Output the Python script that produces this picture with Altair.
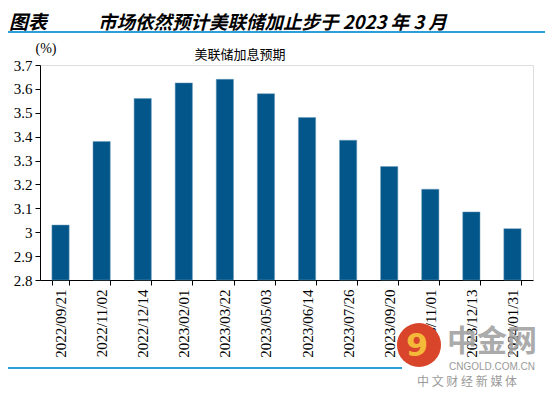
import altair as alt
import pandas as pd

dates = ["2022/09/21", "2022/11/02", "2022/12/14", "2023/02/01", "2023/03/22", "2023/05/03",
         "2023/06/14", "2023/07/26", "2023/09/20", "2023/11/01", "2023/12/13", "2024/01/31"]
values = [3.03, 3.38, 3.56, 3.625, 3.64, 3.58, 3.48, 3.385, 3.275, 3.18, 3.085, 3.015]
y_ticks = [2.8, 2.9, 3.0, 3.1, 3.2, 3.3, 3.4, 3.5, 3.6, 3.7]

header_label = "图表"
title_text = "市场依然预计美联储加止步于 2023 年 3 月"
subtitle_text = "美联储加息预期"
unit_text = "(%)"

df = pd.DataFrame({"date": dates, "value": values})

SERIF = "Liberation Serif"
CJK = "Noto Sans CJK SC"
W, H = 493, 215

bars = alt.Chart(df).mark_bar(color="#03568a", stroke="#6d9cbc", strokeWidth=0.5).encode(
    x=alt.X("date:N", sort=None, title=None,
            scale=alt.Scale(paddingInner=0.58, paddingOuter=0.29),
            axis=alt.Axis(labelAngle=270, labelFont=SERIF, labelFontSize=15, labelColor="#000",
                          domainColor="#000", tickColor="#000", tickSize=5, tickBand="extent",
                          labelPadding=4)),
    y=alt.Y("value:Q", title=None,
            scale=alt.Scale(domain=[2.8, 3.7], zero=False, nice=False),
            axis=alt.Axis(values=y_ticks, format="~g", labelFont=SERIF, labelFontSize=15,
                          labelColor="#000", domainColor="#000", tickColor="#000", tickSize=5,
                          grid=False, labelPadding=3)),
    y2=alt.datum(2.8),
)


def txt(s, x, y, size, font, color="#000", weight="normal", style="normal", align="center",
        opacity=1.0):
    return alt.Chart(pd.DataFrame({"t": [s]})).mark_text(
        font=font, fontSize=size, fontWeight=weight, fontStyle=style, color=color,
        align=align, baseline="middle", opacity=opacity
    ).encode(x=alt.value(x), y=alt.value(y), text="t:N")


def hline(x1, x2, y, color, width):
    return alt.Chart(pd.DataFrame({"a": [0]})).mark_rule(color=color, strokeWidth=width).encode(
        x=alt.value(x1), x2=alt.value(x2), y=alt.value(y))


header = txt(header_label, -31, -42, 19, CJK, weight="bold", style="italic", align="left")
title = txt(title_text, 58, -42, 18.5, CJK, weight="bold", style="italic", align="left")
top_line = hline(-40, 505, -33, "#2b9fdc", 2)
unit = txt(unit_text, 6, -16, 14, SERIF)
subtitle = txt(subtitle_text, 200, -10, 13, CJK)
bottom_line = hline(-40, 362, 303, "#2b9fdc", 2)

logo = alt.Chart(pd.DataFrame({"a": [0]})).mark_point(
    filled=True, shape="circle", size=1940, color="#d8452a", opacity=1
).encode(x=alt.value(379), y=alt.value(280))
logo_inner = txt("9", 377, 281, 32, "DejaVu Sans", color="#f5b93a", weight="bold")
wm1 = txt("中金网", 452, 277, 30, CJK, color="#a3a3a3", weight="bold", opacity=0.9)
wm2 = txt("CNGOLD.COM.CN", 452, 302, 10, "Liberation Sans", color="#9a9a9a")
wm3 = txt("中  文  财  经  新  媒  体", 427, 317, 12, CJK, color="#9a9a9a")

chart = alt.layer(
    bars, header, title, top_line, unit, subtitle, bottom_line,
    logo, logo_inner, wm1, wm2, wm3
).properties(
    width=W, height=H,
    autosize=alt.AutoSizeParams(type="none"),
    padding={"left": 32, "top": 57, "right": 12, "bottom": 111},
).configure_view(stroke=None).configure(background="white")

chart.save("out.html", embed_options={"renderer": "svg", "actions": False})
